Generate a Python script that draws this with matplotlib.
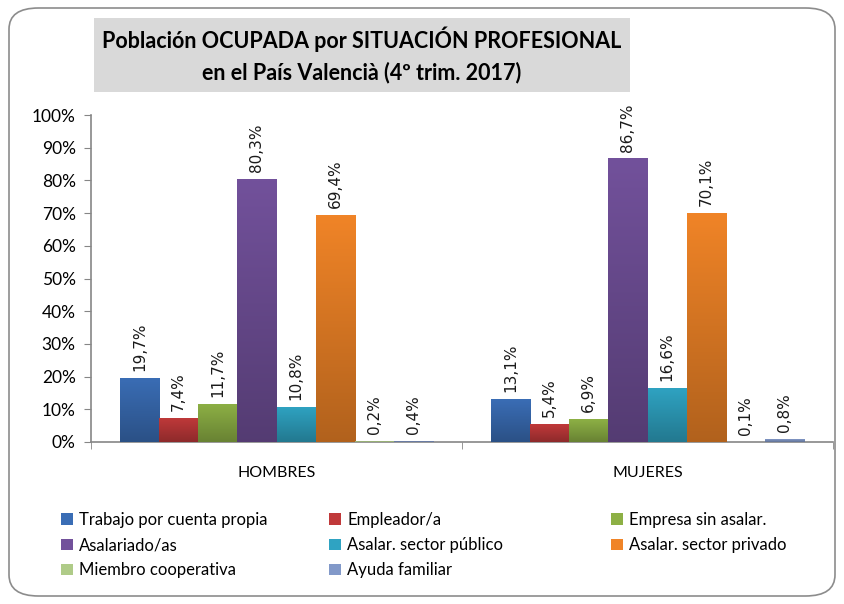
import matplotlib.pyplot as plt
import numpy as np
from matplotlib.patches import FancyBboxPatch
from matplotlib.colors import to_rgb

# datos
grupos = ['HOMBRES', 'MUJERES']
series = ['Trabajo por cuenta propia', 'Empleador/a', 'Empresa sin asalar.',
          'Asalariado/as', 'Asalar. sector público', 'Asalar. sector privado',
          'Miembro cooperativa', 'Ayuda familiar']
hombres = [19.7, 7.4, 11.7, 80.3, 10.8, 69.4, 0.2, 0.4]
mujeres = [13.1, 5.4, 6.9, 86.7, 16.6, 70.1, 0.1, 0.8]
colores = ['#3A6DB5', '#C0393A', '#8DB045', '#72519B', '#2FA3C2',
           '#F08427', '#AFCB88', '#8299C9']

plt.rcParams['font.family'] = ['Lato', 'DejaVu Sans']

fig = plt.figure(figsize=(8.44, 6.04), dpi=100)

# marco redondeado
marco = FancyBboxPatch((9 / 844, 8 / 604), 826 / 844, 588 / 604,
                       boxstyle='round,pad=0,rounding_size=0.035',
                       transform=fig.transFigure, facecolor='none',
                       edgecolor='#8C8C8C', linewidth=1.2, zorder=-1)
fig.patches.append(marco)

ax = fig.add_axes([91 / 844, 1 - 442 / 604, 742 / 844, 327 / 604])
ax.set_facecolor('none')

x = np.arange(len(grupos))
ancho = 0.1055
valores = np.array([hombres, mujeres])


def degradado(barra, color):
    c = np.array(to_rgb(color))
    arriba = c
    abajo = c * 0.74
    t = np.linspace(0, 1, 64)[:, None]
    img = arriba * (1 - t) + abajo * t
    img = img[:, None, :]
    bx, by = barra.get_x(), barra.get_y()
    w, h = barra.get_width(), barra.get_height()
    im = ax.imshow(img, extent=[bx, bx + w, by, by + h], aspect='auto',
                   zorder=3, interpolation='bilinear')
    im.set_clip_path(barra)


for i, nombre in enumerate(series):
    pos = x - 4 * ancho + (i + 0.5) * ancho
    barras = ax.bar(pos, valores[:, i], ancho, color=colores[i], label=nombre,
                    zorder=2, linewidth=0)
    for b in barras:
        degradado(b, colores[i])
    for p, v in zip(pos, valores[:, i]):
        ax.annotate(f'{v:.1f}%'.replace('.', ','), (p, v), xytext=(0, 5),
                    textcoords='offset points', rotation=90, ha='center',
                    va='bottom', fontsize=11, color='#1A1A1A',
                    family='DejaVu Sans')

ax.set_xlim(-0.5, 1.5)
ax.set_ylim(0, 100)
ax.set_yticks(np.arange(0, 101, 10))
ax.set_yticklabels([f'{v}%' for v in range(0, 101, 10)], fontsize=12.5)
ax.set_xticks(x)
ax.set_xticklabels(grupos, fontsize=11.5)
ax.set_xticks([-0.5, 0.5, 1.5], minor=True)
ax.tick_params(axis='x', which='major', length=0, pad=17)
ax.tick_params(axis='x', which='minor', length=5, color='#868686')
ax.tick_params(axis='y', length=5, color='#868686', pad=6)
for s in ['top', 'right']:
    ax.spines[s].set_visible(False)
for s in ['left', 'bottom']:
    ax.spines[s].set_color('#868686')
    ax.spines[s].set_linewidth(1.2)

# título
fig.text(362 / 844, 1 - 55 / 604,
         'Población OCUPADA por SITUACIÓN PROFESIONAL\nen el País Valencià (4º trim. 2017)',
         ha='center', va='center', fontsize=15.5, fontweight='bold',
         linespacing=1.5,
         bbox=dict(boxstyle='square,pad=0.4', facecolor='#D9D9D9',
                   edgecolor='none'))

# leyenda: tres columnas, cada una su propia leyenda
h, l = ax.get_legend_handles_labels()
columnas = [[0, 3, 6], [1, 4, 7], [2, 5]]
x_col = [61, 329, 611]
for cols, xc in zip(columnas, x_col):
    leg = fig.legend([h[k] for k in cols], [l[k] for k in cols],
                     loc='upper left', bbox_to_anchor=(xc / 844, 1 - 512 / 604),
                     frameon=False, fontsize=12, handlelength=0.7,
                     handleheight=0.7, handletextpad=0.4, labelspacing=0.55,
                     borderpad=0, borderaxespad=0)

fig.savefig('out.png', dpi=100)
